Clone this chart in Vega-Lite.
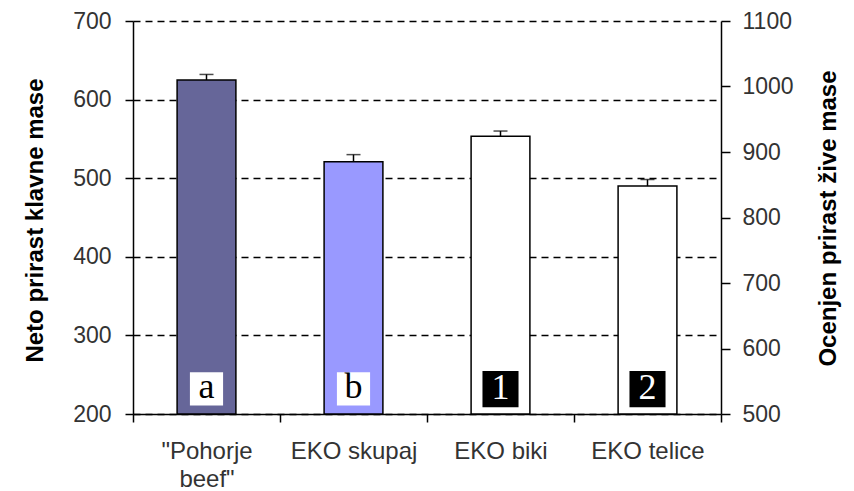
{
  "$schema": "https://vega.github.io/schema/vega-lite/v6.json",
  "width": 588,
  "height": 393,
  "autosize": {"type": "none"},
  "padding": {"left": 133, "top": 21, "right": 133, "bottom": 77},
  "background": "white",
  "config": {
    "view": {"stroke": null},
    "axis": {
      "labelFont": "Liberation Sans",
      "titleFont": "Liberation Sans",
      "domainColor": "black",
      "domainWidth": 1.5,
      "tickColor": "black",
      "tickWidth": 1.5,
      "labelColor": "#333333",
      "titleColor": "black"
    }
  },
  "data": {
    "values": [
      {"group": "Pohorje beef", "value": 625, "upper": 632, "label": "a", "side": "left"},
      {"group": "EKO skupaj", "value": 521, "upper": 530, "label": "b", "side": "left"},
      {"group": "EKO biki", "value": 924, "upper": 932, "label": "1", "side": "right"},
      {"group": "EKO telice", "value": 848, "upper": 858, "label": "2", "side": "right"}
    ]
  },
  "encoding": {
    "x": {
      "field": "group",
      "type": "nominal",
      "sort": null,
      "scale": {
        "domain": ["Pohorje beef", "EKO skupaj", "EKO biki", "EKO telice"],
        "paddingInner": 0,
        "paddingOuter": 0
      },
      "axis": {
        "orient": "bottom",
        "title": null,
        "labelAngle": 0,
        "tickBand": "extent",
        "tickSize": 8,
        "labelPadding": 17,
        "labelFontSize": 24,
        "labelLineHeight": 28,
        "labelExpr": "datum.value == 'Pohorje beef' ? ['\"Pohorje', 'beef\"'] : datum.value"
      }
    }
  },
  "layer": [
    {
      "transform": [{"filter": "datum.side == 'left'"}],
      "layer": [
        {
          "mark": {"type": "bar", "stroke": "black", "strokeWidth": 1.5, "width": {"band": 0.4}},
          "encoding": {
            "y": {
              "field": "value",
              "type": "quantitative",
              "scale": {"domain": [200, 700], "nice": false, "zero": false},
              "axis": {
                "orient": "left",
                "values": [200, 300, 400, 500, 600, 700],
                "grid": true,
                "gridColor": "black",
                "gridDash": [7, 5],
                "gridWidth": 1.5,
                "tickSize": 8,
                "labelPadding": 14,
                "labelFontSize": 23,
                "title": "Neto prirast klavne mase",
                "titleFontSize": 24,
                "titleFontWeight": "bold",
                "titleAngle": 270,
                "titleX": -98,
                "titleY": 199,
                "titleBaseline": "middle",
                "titleAlign": "center"
              }
            },
            "y2": {"datum": 200},
            "color": {
              "field": "group",
              "type": "nominal",
              "scale": {"domain": ["Pohorje beef", "EKO skupaj"], "range": ["#666699", "#9999FF"]},
              "legend": null
            }
          }
        },
        {
          "mark": {"type": "rule", "color": "black", "strokeWidth": 1.5},
          "encoding": {"y": {"field": "value", "type": "quantitative"}, "y2": {"field": "upper"}}
        },
        {
          "mark": {"type": "tick", "color": "black", "size": 14, "thickness": 1.5},
          "encoding": {"y": {"field": "upper", "type": "quantitative"}}
        },
        {
          "mark": {"type": "point", "shape": "square", "filled": true, "fill": "white", "opacity": 1, "size": 1100, "strokeWidth": 0},
          "encoding": {"y": {"datum": 232, "type": "quantitative"}}
        },
        {
          "mark": {"type": "text", "font": "Liberation Serif", "fontSize": 36, "color": "black", "baseline": "middle", "dy": -2},
          "encoding": {"y": {"datum": 232, "type": "quantitative"}, "text": {"field": "label"}}
        }
      ]
    },
    {
      "transform": [{"filter": "datum.side == 'right'"}],
      "layer": [
        {
          "mark": {"type": "bar", "fill": "white", "stroke": "black", "strokeWidth": 1.5, "width": {"band": 0.4}},
          "encoding": {
            "y": {
              "field": "value",
              "type": "quantitative",
              "scale": {"domain": [500, 1100], "nice": false, "zero": false},
              "axis": {
                "orient": "right",
                "values": [500, 600, 700, 800, 900, 1000, 1100],
                "format": "d",
                "grid": false,
                "tickSize": 9,
                "labelPadding": 12,
                "labelFontSize": 23,
                "title": "Ocenjen prirast žive mase",
                "titleFontSize": 24,
                "titleFontWeight": "bold",
                "titleAngle": 270,
                "titleX": 107,
                "titleY": 197,
                "titleBaseline": "middle",
                "titleAlign": "center"
              }
            },
            "y2": {"datum": 500}
          }
        },
        {
          "mark": {"type": "rule", "color": "black", "strokeWidth": 1.5},
          "encoding": {"y": {"field": "value", "type": "quantitative"}, "y2": {"field": "upper"}}
        },
        {
          "mark": {"type": "tick", "color": "black", "size": 14, "thickness": 1.5},
          "encoding": {"y": {"field": "upper", "type": "quantitative"}}
        },
        {
          "mark": {"type": "point", "shape": "square", "filled": true, "fill": "black", "opacity": 1, "size": 1300, "strokeWidth": 0},
          "encoding": {"y": {"datum": 538, "type": "quantitative"}}
        },
        {
          "mark": {"type": "text", "font": "Liberation Serif", "fontSize": 36, "color": "white", "baseline": "middle", "dy": -1},
          "encoding": {"y": {"datum": 538, "type": "quantitative"}, "text": {"field": "label"}}
        }
      ]
    }
  ],
  "resolve": {"scale": {"y": "independent"}}
}
